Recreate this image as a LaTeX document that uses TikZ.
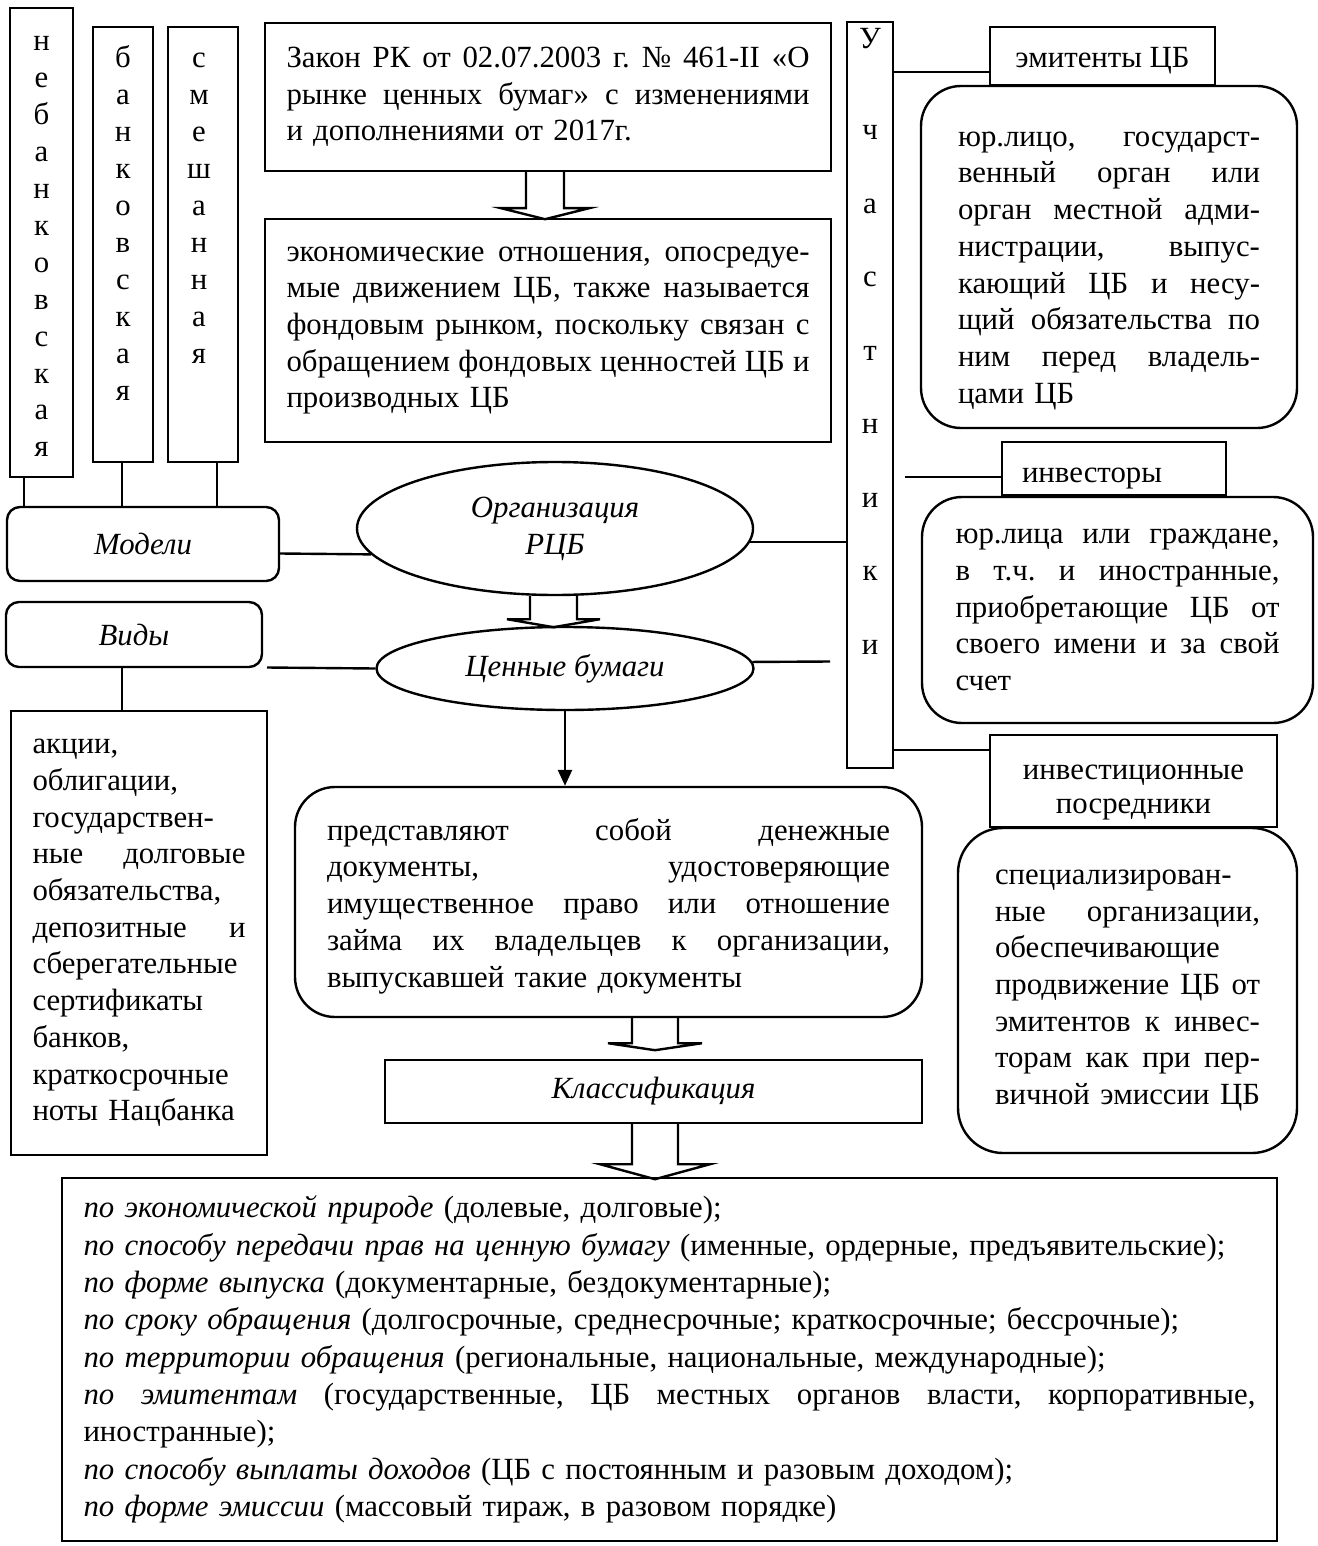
\documentclass[tikz,border=0pt]{standalone}
\usepackage{fontspec}
\setmainfont{Liberation Serif}
\usetikzlibrary{shapes.geometric,arrows.meta}

% one fully justified line of a fixed-width paragraph
\newcommand\jl[1]{\leavevmode\hbox to \hsize{\spaceskip=.25em plus 1fil minus .08em\relax #1}}
% letters stacked one under another
\newcommand\vword[1]{\begin{tabular}[t]{@{}c@{}}#1\end{tabular}}
% invisible prop that lowers a centred block of text
\newcommand\lowerby[1]{\rule{0pt}{#1}}

\begin{document}
\frenchspacing
\begin{tikzpicture}[x=1pt,y=-1pt,
  every node/.style={font=\fontsize{30.8}{36.7}\selectfont},
  frame/.style={draw,line width=2.4pt,rectangle,inner sep=0pt,align=left},
  rframe/.style={frame,rounded corners=#1},
  rframe/.default=40pt,
  oval/.style={draw,line width=2.4pt,ellipse,inner sep=0pt,align=center,
    font=\fontsize{30.8}{37}\selectfont\itshape},
  link/.style={line width=2.4pt,line join=miter},
  vletters/.style={anchor=base,inner sep=0pt,font=\fontsize{30.8}{36.9}\selectfont}]

\fill[white] (0,0) rectangle (1317,1546);
\useasboundingbox (0,0) rectangle (1317,1546);

% ---------- models of the market ----------
\node[frame,minimum width=63,minimum height=469] (nebank) at (41.5,242.5) {};
\node[vletters] (nebank-t) at (41.5,51) {\vword{н\\е\\б\\а\\н\\к\\о\\в\\с\\к\\а\\я}};
\node[frame,minimum width=60,minimum height=435] (bank) at (123,244.5) {};
\node[vletters] (bank-t) at (123,68) {\vword{б\\а\\н\\к\\о\\в\\с\\к\\а\\я}};
\node[frame,minimum width=70,minimum height=435] (mixed) at (203,244.5) {};
\node[vletters] (mixed-t) at (199,68) {\vword{с\\м\\е\\ш\\а\\н\\н\\а\\я}};

\node[rframe=13pt,minimum width=272,minimum height=74,align=center,
      font=\fontsize{30.8}{36.7}\selectfont\itshape] (models) at (143,544) {Модели};
\node[rframe=13pt,minimum width=256,minimum height=65,align=center,
      font=\fontsize{30.8}{36.7}\selectfont\itshape] (kinds) at (134,634.5) {Виды};

\node[frame,minimum width=256,minimum height=444,text width=213] (kinds-d) at (139,933)
 {акции,\\
  облигации,\\
  государствен-\\
  \jl{ные долговые}\\
  обязательства,\\
  \jl{депозитные и}\\
  сберегательные\\
  сертификаты\\
  банков,\\
  краткосрочные\\
  ноты Нацбанка};

% ---------- law and definition ----------
\node[frame,minimum width=566,minimum height=148,text width=523] (law) at (548,97)
 {\jl{Закон РК от 02.07.2003 г. № 461-II «О}\\
  \jl{рынке ценных бумаг» с изменениями}\\
  и дополнениями от 2017г.};
\node[frame,minimum width=566,minimum height=223,text width=523] (econ) at (548,330.5)
 {\jl{экономические отношения, опосредуе-}\\
  \jl{мые движением ЦБ, также называется}\\
  \jl{фондовым рынком, поскольку связан с}\\
  \jl{обращением фондовых ценностей ЦБ и}\\
  производных ЦБ};

% ---------- centre ----------
\node[oval,minimum width=396,minimum height=133] (org) at (555,528.5) {Организация\\РЦБ};
\node[oval,minimum width=377,minimum height=83] (sec) at (565,668.5) {Ценные бумаги};

\node[rframe,minimum width=627,minimum height=230,text width=563] (sec-d) at (608.5,902)
 {\jl{\lowerby{30pt}представляют собой денежные}\\
  \jl{документы, удостоверяющие}\\
  \jl{имущественное право или отношение}\\
  \jl{займа их владельцев к организации,}\\
  выпускавшей такие документы};

\node[frame,minimum width=537,minimum height=63,align=center,
      font=\fontsize{30.8}{36.7}\selectfont\itshape] (class) at (653.5,1091.5) {Классификация};

\node[frame,minimum width=1215,minimum height=363,text width=1172,
      font=\fontsize{30.8}{37.3}\selectfont] (class-d) at (669.5,1359.5)
 {\textit{по экономической природе} (долевые, долговые);\\
  \textit{по способу передачи прав на ценную бумагу} (именные, ордерные, предъявительские);\\
  \textit{по форме выпуска} (документарные, бездокументарные);\\
  \textit{по сроку обращения} (долгосрочные, среднесрочные; краткосрочные; бессрочные);\\
  \textit{по территории обращения} (региональные, национальные, международные);\\
  \jl{\textit{по эмитентам} (государственные, ЦБ местных органов власти, корпоративные,}\\
  иностранные);\\
  \textit{по способу выплаты доходов} (ЦБ с постоянным и разовым доходом);\\
  \textit{по форме эмиссии} (массовый тираж, в разовом порядке)};

% ---------- participants ----------
\node[frame,minimum width=46,minimum height=746] (part) at (870,395) {};
\node[vletters,font=\fontsize{30.8}{73.5}\selectfont] (part-t) at (870,48.5)
 {\vword{У\\[18pt]ч\\а\\с\\т\\н\\и\\к\\и}};

\node[frame,minimum width=225,minimum height=58,align=center] (emit) at (1102.5,56)
 {\raisebox{-12pt}[0pt][0pt]{эмитенты ЦБ}};
\node[rframe,minimum width=376,minimum height=342,text width=302] (emit-d) at (1109,257)
 {\jl{\lowerby{42pt}юр.лицо, государст-}\\
  \jl{венный орган или}\\
  \jl{орган местной адми-}\\
  \jl{нистрации, выпус-}\\
  \jl{кающий ЦБ и несу-}\\
  \jl{щий обязательства по}\\
  \jl{ним перед владель-}\\
  цами ЦБ};

\node[frame,minimum width=224,minimum height=53,text width=184] (inv) at (1114,468.5)
 {\raisebox{-14pt}[0pt][0pt]{инвесторы}};
\node[rframe,minimum width=391,minimum height=226,text width=324] (inv-d) at (1117.5,610)
 {\jl{юр.лица или граждане,}\\
  \jl{в т.ч. и иностранные,}\\
  \jl{приобретающие ЦБ от}\\
  \jl{своего имени и за свой}\\
  счет};

\node[frame,minimum width=287,minimum height=92,text width=270,align=center,
      font=\fontsize{30.8}{34}\selectfont] (intm) at (1133.5,781)
 {\lowerby{38pt}инвестиционные\\посредники};
\node[rframe=45pt,minimum width=339,minimum height=325,text width=265] (intm-d) at (1127.5,990.5)
 {специализирован-\\
  \jl{ные организации,}\\
  обеспечивающие\\
  \jl{продвижение ЦБ от}\\
  \jl{эмитентов к инвес-}\\
  \jl{торам как при пер-}\\
  \jl{вичной эмиссии ЦБ}};

% ---------- connectors ----------
\draw[link] ([xshift=-17.5pt]nebank.south) -- ([xshift=-17.5pt]nebank.south |- models.north);
\draw[link] ([xshift=-1pt]bank.south) -- ([xshift=-1pt]bank.south |- models.north);
\draw[link] ([xshift=14pt]mixed.south) -- ([xshift=14pt]mixed.south |- models.north);

\draw[link] ([yshift=-9.5pt]models.east) -- (org.188);
\draw[link] (org.356) -- (org.356 -| part.west);

\coordinate (kindsR) at (267,667.5);
\draw[link] (kindsR) -- (sec.west);
\coordinate (secR) at (830,661.5);
\draw[link] (sec.2) -- (secR);
\draw[link] ([xshift=-12pt]kinds.south) -- ([xshift=-12pt]kinds.south |- kinds-d.north);
\draw[link,-{Triangle[width=14pt,length=16pt]}] (sec.south) -- (sec.south |- sec-d.north);

\draw[link] ([yshift=-16pt]emit.west) -- ([yshift=-16pt]emit.west -| part.east);
\coordinate (invL) at (905,477);
\draw[link] (invL) -- (invL -| inv.west);
\draw[link] ([yshift=31pt]intm.west) -- ([yshift=31pt]intm.west -| part.east);

% hollow block arrows
\draw[link] ([xshift=-22pt]law.south) -- ++(0,36) -- ++(-25,0) -- ++(44,11)
  -- ++(44,-11) -- ++(-25,0) -- ++(0,-36);
\draw[link] ([xshift=-25pt]org.south) -- ++(0,23) -- ++(-23,0) -- ++(46.5,8)
  -- ++(46.5,-8) -- ++(-23,0) -- ++(0,-23);
\draw[link] ([xshift=23.5pt]sec-d.south) -- ++(0,25) -- ++(-24,0) -- ++(47,7)
  -- ++(47,-7) -- ++(-24,0) -- ++(0,-25);
\draw[link] ([xshift=-21.5pt]class.south) -- ++(0,40) -- ++(-32,0) -- ++(55,15)
  -- ++(55,-15) -- ++(-32,0) -- ++(0,-40);
\end{tikzpicture}
\end{document}
